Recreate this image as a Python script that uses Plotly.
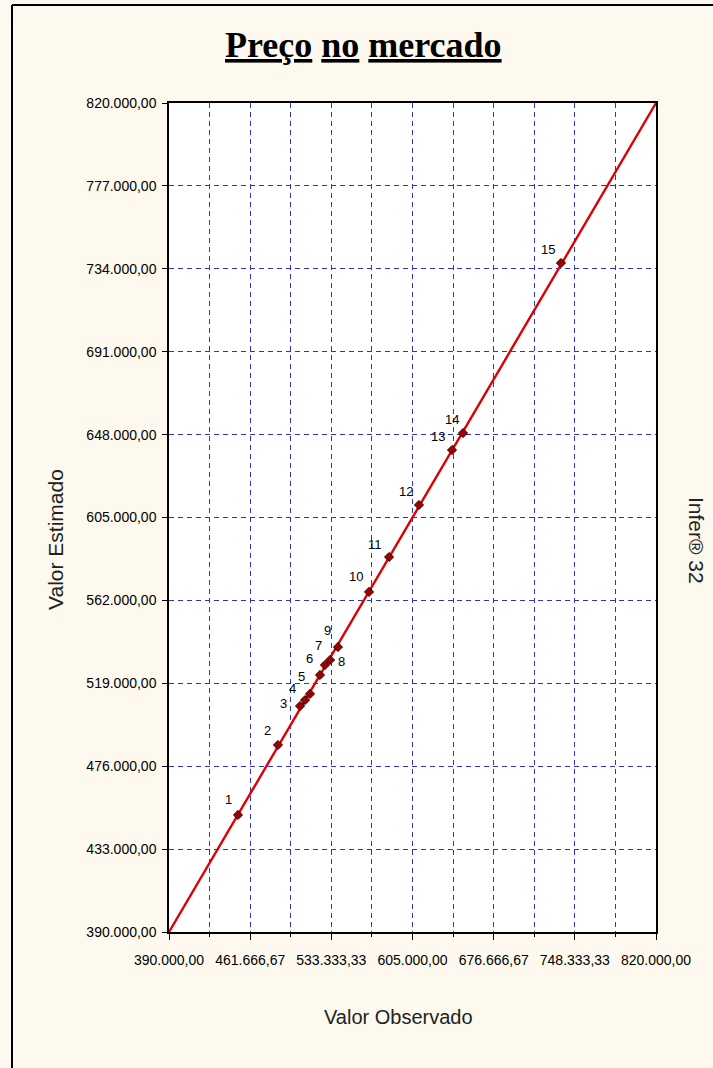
import plotly.graph_objects as go

# ---- data ----
point_labels = ["1", "2", "3", "4", "5", "6", "7", "8", "9", "10", "11", "12", "13", "14", "15"]
observed = [450900, 486200, 505700, 510100, 514500, 523300, 527700, 532200, 539200,
            566600, 584300, 610700, 639900, 649600, 736100]
estimated = [450700, 487000, 507200, 510300, 513500, 523300, 528500, 531100, 537800,
             566400, 584500, 611500, 640000, 648800, 737000]
ideal_line = [390000, 820000]

x_tickvals = [390000, 461666.67, 533333.33, 605000, 676666.67, 748333.33, 820000]
x_gridvals = [390000 + i * 35833.333 for i in range(13)]
y_tickvals = [390000, 433000, 476000, 519000, 562000, 605000, 648000, 691000, 734000, 777000, 820000]

# label offsets in pixels (style only): (dx, dy) with dy positive = up
label_dx = [-9, -10, -17, -13, -9, -10, -6, 11, -10, -13, -14, -13, -14, -11, -13]
label_dy = [15, 14, 3, 12, 17, 17, 19, -2, 17, 15, 13, 13, 14, 14, 14]


def br(v):
    s = f"{v:,.2f}"
    return s.replace(",", "X").replace(".", ",").replace("X", ".")


x_ticktext = [br(v) for v in x_tickvals]
y_ticktext = [br(v) for v in y_tickvals]

W, H = 713, 1068
L, R, T, B = 169, 57, 103, 136
pw, ph = W - L - R, H - T - B


def px(xp):
    return (xp - L) / pw


def py(yp):
    return (H - B - yp) / ph


grid_col = "#3030D8"
fig = go.Figure()
fig.add_trace(go.Scatter(x=ideal_line, y=ideal_line, mode="lines",
                         line=dict(color="#DD0000", width=2.4), hoverinfo="skip", showlegend=False))
fig.add_trace(go.Scatter(x=observed, y=estimated, mode="markers",
                         marker=dict(symbol="diamond", size=7, color="#A00000",
                                     line=dict(color="#300000", width=1)),
                         showlegend=False))

tickfont = dict(family="Liberation Sans, Arial", size=14, color="black")
fig.update_xaxes(range=[390000, 820000], tickmode="array", tickvals=x_tickvals, ticktext=x_ticktext,
                 showgrid=True, gridcolor=grid_col, griddash="5px,4px", gridwidth=1.2,
                 ticks="outside", ticklen=6, tickcolor="black",
                 minor=dict(tickmode="array", tickvals=x_gridvals, showgrid=True, gridcolor=grid_col,
                            griddash="5px,4px", gridwidth=1.2, ticks="outside", ticklen=3, tickcolor="black"),
                 showline=True, linecolor="black", linewidth=1.5, mirror=True,
                 tickfont=tickfont, zeroline=False, ticklabelstandoff=8)
fig.update_yaxes(range=[390000, 820000], tickmode="array", tickvals=y_tickvals, ticktext=y_ticktext,
                 showgrid=True, gridcolor=grid_col, griddash="5px,4px", gridwidth=1.2,
                 ticks="outside", ticklen=5, tickcolor="black",
                 showline=True, linecolor="black", linewidth=1.5, mirror=True,
                 tickfont=tickfont, zeroline=False, ticklabelstandoff=3)

annots = [
    dict(text="<b><u>Preço</u> <u>no</u> <u>mercado</u></b>", x=px(363), y=py(45),
         font=dict(family="Liberation Serif, Times New Roman", size=36, color="black")),
    dict(text="Valor Estimado", x=px(55), y=py(540), textangle=-90,
         font=dict(family="Liberation Sans, Arial", size=21, color="#222222")),
    dict(text="Valor Observado", x=px(398), y=py(1017),
         font=dict(family="Liberation Sans, Arial", size=20, color="#222222")),
    dict(text="Infer® 32", x=px(697), y=py(540), textangle=90,
         font=dict(family="Liberation Sans, Arial", size=21, color="#222222")),
]
for a in annots:
    a.update(xref="paper", yref="paper", showarrow=False, xanchor="center", yanchor="middle")

for lab, xv, yv, dx, dy in zip(point_labels, observed, estimated, label_dx, label_dy):
    annots.append(dict(text=lab, x=xv, y=yv, xref="x", yref="y", showarrow=False,
                       xshift=dx, yshift=dy, xanchor="center", yanchor="middle",
                       font=dict(family="Liberation Sans, Arial", size=13, color="black")))

shapes = [
    dict(type="line", xref="paper", yref="paper", x0=px(12), x1=px(12), y0=py(1100), y1=py(5),
         line=dict(color="black", width=2)),
    dict(type="line", xref="paper", yref="paper", x0=px(12), x1=px(760), y0=py(5), y1=py(5),
         line=dict(color="black", width=2)),
]

fig.update_layout(width=W, height=H, margin=dict(l=L, r=R, t=T, b=B, pad=0),
                  paper_bgcolor="#FDF9EE", plot_bgcolor="white",
                  annotations=annots, shapes=shapes, showlegend=False)

fig.write_html("out.html")
